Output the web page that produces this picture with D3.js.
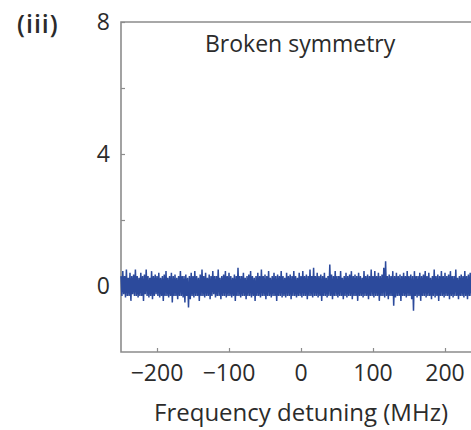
<!DOCTYPE html>
<html>
<head>
<meta charset="utf-8">
<script src="https://cdn.jsdelivr.net/npm/d3@7"></script>
<style>
  body { margin: 0; background: #fff; }
  svg text { font-family: "Open Sans", "Noto Sans", sans-serif; fill: #2b2b2b; }
</style>
</head>
<body>
<svg id="chart" width="471" height="430"></svg>
<script>
// trace: detuning from -250 MHz in 1.25 MHz steps (one row = 25 MHz)
const START_MHZ = -250;
const STEP_MHZ = 1.25;
const signal = [
  0.3,-0.3,0.45,-0.25,0.3,-0.35,0.5,-0.3,0.25,-0.3,0.4,-0.45,0.3,-0.25,0.35,-0.3,0.5,-0.3,0.3,-0.35,
  0.25,-0.3,0.4,-0.3,0.3,-0.45,0.35,-0.25,0.5,-0.3,0.3,-0.35,0.25,-0.3,0.45,-0.4,0.3,-0.3,0.35,-0.25,
  0.3,-0.3,0.4,-0.35,0.25,-0.3,0.3,-0.45,0.35,-0.3,0.45,-0.3,0.25,-0.35,0.3,-0.3,0.4,-0.5,0.3,-0.3,
  0.35,-0.3,0.25,-0.4,0.3,-0.3,0.45,-0.3,0.3,-0.35,0.3,-0.5,0.35,-0.3,0.25,-0.65,0.3,-0.4,0.4,-0.3,
  0.3,-0.35,0.45,-0.3,0.3,-0.3,0.25,-0.45,0.35,-0.3,0.5,-0.3,0.3,-0.35,0.4,-0.3,0.25,-0.3,0.35,-0.4,
  0.3,-0.3,0.45,-0.25,0.3,-0.35,0.3,-0.3,0.5,-0.3,0.25,-0.4,0.3,-0.3,0.35,-0.3,0.45,-0.35,0.3,-0.3,
  0.4,-0.3,0.3,-0.35,0.25,-0.3,0.35,-0.45,0.3,-0.3,0.55,-0.3,0.3,-0.35,0.3,-0.3,0.4,-0.3,0.25,-0.4,
  0.3,-0.3,0.35,-0.3,0.45,-0.35,0.3,-0.3,0.25,-0.45,0.3,-0.3,0.4,-0.3,0.3,-0.35,0.5,-0.3,0.3,-0.3,
  0.35,-0.4,0.3,-0.3,0.45,-0.3,0.25,-0.35,0.3,-0.3,0.4,-0.3,0.3,-0.45,0.35,-0.3,0.3,-0.3,0.45,-0.35,
  0.3,-0.3,0.25,-0.35,0.4,-0.3,0.3,-0.3,0.35,-0.4,0.3,-0.3,0.45,-0.3,0.3,-0.35,0.25,-0.3,0.4,-0.3,
  0.3,-0.35,0.45,-0.3,0.3,-0.3,0.35,-0.4,0.3,-0.3,0.5,-0.3,0.3,-0.35,0.55,-0.3,0.3,-0.3,0.4,-0.35,
  0.3,-0.3,0.35,-0.45,0.3,-0.3,0.4,-0.3,0.25,-0.35,0.3,-0.3,0.65,-0.3,0.35,-0.4,0.3,-0.3,0.45,-0.3,
  0.3,-0.35,0.3,-0.3,0.45,-0.3,0.25,-0.4,0.3,-0.3,0.4,-0.35,0.3,-0.3,0.35,-0.3,0.45,-0.4,0.3,-0.3,
  0.35,-0.3,0.3,-0.45,0.4,-0.3,0.3,-0.3,0.25,-0.35,0.45,-0.3,0.3,-0.3,0.35,-0.4,0.3,-0.3,0.5,-0.3,
  0.3,-0.35,0.45,-0.3,0.3,-0.3,0.4,-0.45,0.3,-0.3,0.35,-0.3,0.55,-0.35,0.75,-0.3,0.3,-0.4,0.35,-0.3,
  0.3,-0.3,0.45,-0.6,0.3,-0.35,0.4,-0.3,0.3,-0.3,0.35,-0.45,0.3,-0.3,0.4,-0.3,0.3,-0.35,0.45,-0.3,
  0.3,-0.3,0.35,-0.4,0.3,-0.75,0.45,-0.3,0.3,-0.35,0.3,-0.3,0.4,-0.45,0.3,-0.3,0.35,-0.3,0.45,-0.35,
  0.3,-0.3,0.4,-0.3,0.25,-0.4,0.3,-0.3,0.5,-0.35,0.3,-0.3,0.35,-0.45,0.3,-0.3,0.45,-0.3,0.3,-0.35,
  0.4,-0.3,0.3,-0.3,0.35,-0.4,0.45,-0.3,0.3,-0.35,0.3,-0.3,0.5,-0.3,0.25,-0.4,0.3,-0.3,0.35,-0.3,
  0.3,-0.35,0.45,-0.3,0.3,-0.4,0.35,-0.3,0.4,-0.3,0.3
];
const xTicks = [-200, -100, 0, 100, 200];
const yTicks = [0, 2, 4, 6, 8];
const yLabels = [0, 4, 8];

const svg = d3.select("#chart");
const LEFT = 121, RIGHT = 481, TOP = 22, BOTTOM = 352;

const x = d3.scaleLinear().domain([-250, 250]).range([LEFT, RIGHT]);
const y = d3.scaleLinear().domain([-2, 8]).range([BOTTOM, TOP]);

const AXIS_COLOR = "#8c8c8c";

// frame (left, top, bottom)
svg.append("path")
  .attr("d", `M${RIGHT},${TOP}H${LEFT}V${BOTTOM}H${RIGHT}`)
  .attr("fill", "none")
  .attr("stroke", AXIS_COLOR)
  .attr("stroke-width", 1.6);

// inward ticks
const xAxis = d3.axisTop(x).tickValues(xTicks).tickSize(4).tickFormat("");
svg.append("g").attr("transform", `translate(0,${BOTTOM})`).call(xAxis)
  .call(g => g.select(".domain").remove())
  .selectAll("line").attr("stroke", AXIS_COLOR).attr("stroke-width", 1.2);

const yAxis = d3.axisRight(y).tickValues(yTicks).tickSize(4).tickFormat("");
svg.append("g").attr("transform", `translate(${LEFT},0)`).call(yAxis)
  .call(g => g.select(".domain").remove())
  .selectAll("line").attr("stroke", AXIS_COLOR).attr("stroke-width", 1.2);

// tick labels
svg.selectAll("text.xl").data(xTicks).join("text")
  .attr("class", "xl")
  .attr("x", d => x(d))
  .attr("y", 381)
  .attr("text-anchor", "middle")
  .attr("font-size", 23)
  .text(d => d < 0 ? "\u2212" + Math.abs(d) : d);

svg.selectAll("text.yl").data(yLabels).join("text")
  .attr("class", "yl")
  .attr("x", 110)
  .attr("y", d => y(d))
  .attr("dy", "0.36em")
  .attr("text-anchor", "end")
  .attr("font-size", 23)
  .text(d => d);

// labels
svg.append("text")
  .attr("x", x(0))
  .attr("y", 421)
  .attr("text-anchor", "middle")
  .attr("font-size", 24)
  .text("Frequency detuning (MHz)");

svg.append("text")
  .attr("x", 17)
  .attr("y", 33)
  .attr("font-size", 25)
  .attr("font-weight", 600)
  .attr("letter-spacing", 1)
  .text("(iii)");

svg.append("text")
  .attr("x", 205)
  .attr("y", 52)
  .attr("font-size", 23)
  .text("Broken symmetry");

// trace
const line = d3.line()
  .x((d, i) => x(START_MHZ + i * STEP_MHZ))
  .y(d => y(d));

svg.append("path")
  .attr("d", line(signal))
  .attr("fill", "none")
  .attr("stroke", "#2c4a9c")
  .attr("stroke-width", 1.5);
</script>
</body>
</html>
